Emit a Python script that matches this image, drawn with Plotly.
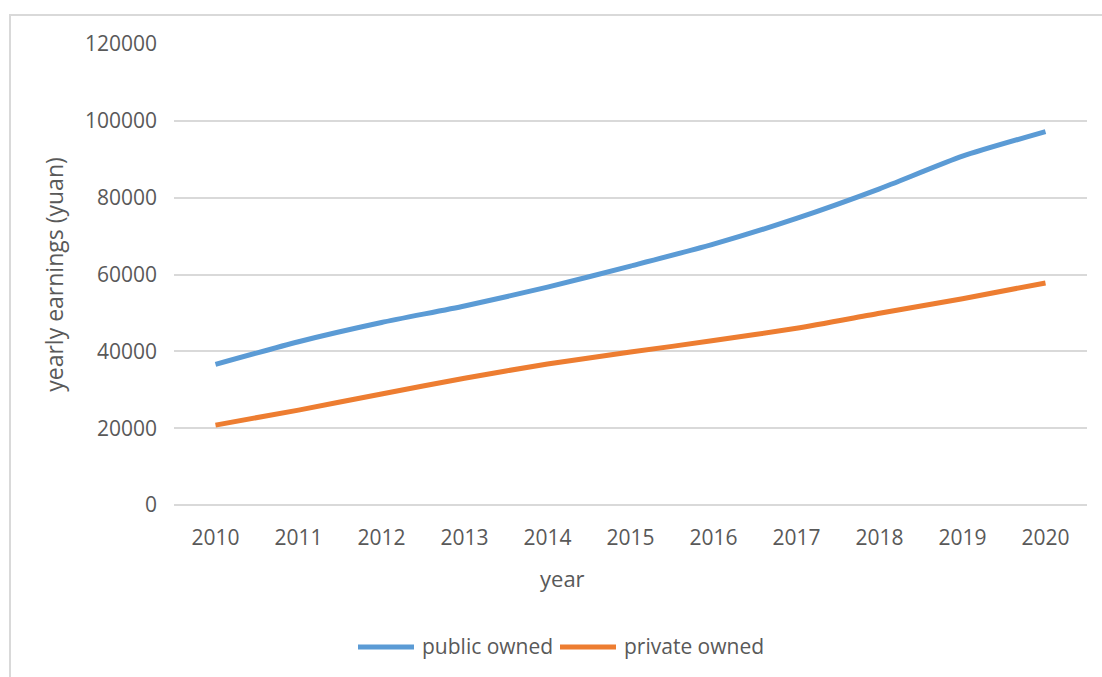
import plotly.graph_objects as go

years = ["2010", "2011", "2012", "2013", "2014", "2015", "2016", "2017", "2018", "2019", "2020"]
public_owned = [36600, 42500, 47500, 51800, 56700, 62200, 67900, 74600, 82300, 90800, 97200]
private_owned = [20800, 24700, 28900, 33000, 36700, 39800, 42800, 46000, 49900, 53700, 57800]
y_ticks = [0, 20000, 40000, 60000, 80000, 100000, 120000]
series_names = ["public owned", "private owned"]
series_colors = ["#5B9BD5", "#ED7D31"]

W, H = 1102, 677
ML, MR, MT, MB = 174, 15, 44, 172
pw, ph = W - ML - MR, H - MT - MB

FONT = "Open Sans"
TXT = "#595959"


def px_x(x):
    return (x - ML) / pw


def px_y(y):
    return 1 - (y - MT) / ph


fig = go.Figure()
for name, color, vals in zip(series_names, series_colors, [public_owned, private_owned]):
    fig.add_trace(go.Scatter(
        x=years, y=vals, name=name, mode="lines", showlegend=False,
        line=dict(color=color, width=5, shape="spline", smoothing=0.6),
    ))

# outer chart frame (partly outside the visible page)
fig.add_shape(
    type="rect", xref="paper", yref="paper",
    x0=px_x(10), x1=px_x(W + 20), y0=px_y(H + 20), y1=px_y(15),
    line=dict(color="#D9D9D9", width=2), fillcolor="rgba(0,0,0,0)", layer="below",
)

# horizontal axis title, centred on the chart
fig.add_annotation(
    text="year", xref="paper", yref="paper",
    x=px_x(562), y=px_y(578),
    xanchor="center", yanchor="middle", showarrow=False,
    font=dict(family=FONT, size=22, color=TXT),
)

# legend row along the bottom: long line swatches followed by the series names
legend_y = 647
swatch_starts = [358, 560]
for name, color, x0 in zip(series_names, series_colors, swatch_starts):
    fig.add_shape(
        type="line", xref="paper", yref="paper",
        x0=px_x(x0), x1=px_x(x0 + 56), y0=px_y(legend_y), y1=px_y(legend_y),
        line=dict(color=color, width=5),
    )
    fig.add_annotation(
        text=name, xref="paper", yref="paper",
        x=px_x(x0 + 62), y=px_y(legend_y - 1),
        xanchor="left", yanchor="middle", showarrow=False,
        font=dict(family=FONT, size=21, color=TXT),
    )

fig.update_layout(
    width=W, height=H,
    margin=dict(l=ML, r=MR, t=MT, b=MB),
    paper_bgcolor="white", plot_bgcolor="white",
    font=dict(family=FONT, size=21, color=TXT),
    showlegend=False,
    xaxis=dict(
        type="category", range=[-0.5, 10.5], showgrid=False,
        showline=False, ticks="", ticklabelstandoff=18,
        tickfont=dict(size=21, color=TXT),
    ),
    yaxis=dict(
        range=[0, 120000], tickvals=y_ticks, ticktext=[str(v) for v in y_ticks],
        showgrid=True, gridcolor="#D9D9D9", gridwidth=1.5,
        zeroline=True, zerolinecolor="#D9D9D9", zerolinewidth=1.5,
        showline=False, ticks="", ticklabelstandoff=16,
        tickfont=dict(size=21, color=TXT),
        title=dict(text="yearly earnings (yuan)", font=dict(size=23, color=TXT), standoff=14),
    ),
)

fig.write_html("out.html")
